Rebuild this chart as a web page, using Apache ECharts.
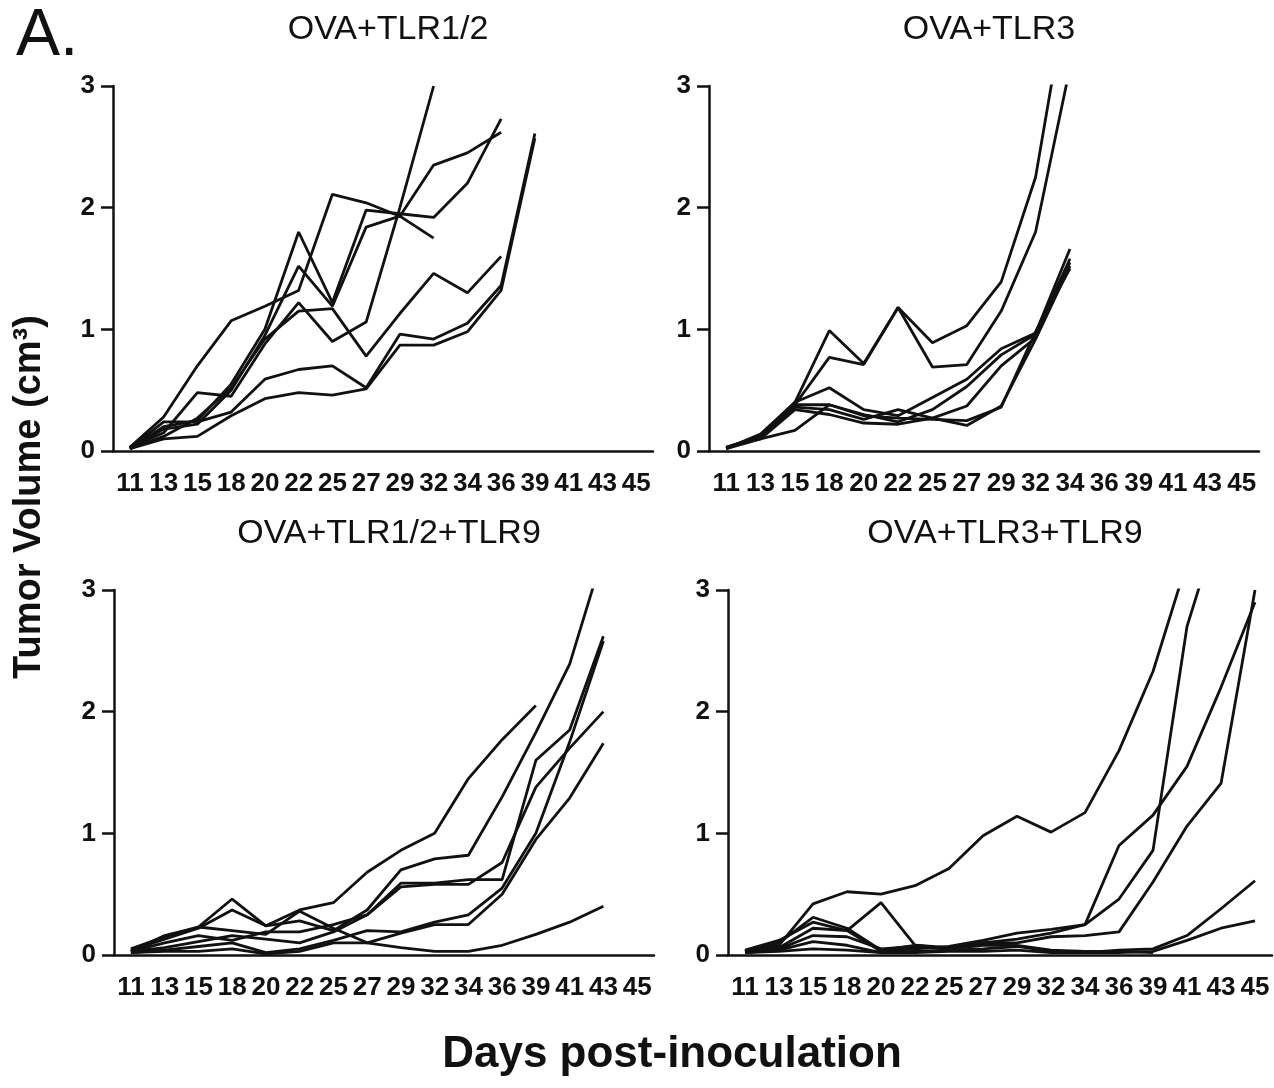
<!DOCTYPE html>
<html>
<head>
<meta charset="utf-8">
<script src="https://cdn.jsdelivr.net/npm/echarts@6/dist/echarts.min.js"></script>
<style>
html,body{margin:0;padding:0;background:#fff;}
#chart{width:1274px;height:1088px;}
</style>
</head>
<body>
<div id="chart"></div>
<script>
// Category labels (days post-inoculation)
const days = ['11','13','15','18','20','22','25','27','29','32','34','36','39','41','43','45'];
const yTicks = [0, 1, 2, 3];

const panelTitles = ['OVA+TLR1/2', 'OVA+TLR3', 'OVA+TLR1/2+TLR9', 'OVA+TLR3+TLR9'];

// Each row = one mouse (tumor volume, cm3), in day order; rows end when the mouse leaves the study
const tlr12 = [
  [0.03, 0.28, 0.70, 1.07, 1.19, 1.32, 2.11, 2.04, 1.93, 1.75],
  [0.02, 0.20, 0.25, 0.55, 1.00, 1.80, 1.22, 1.98, 1.95, 1.92, 2.20, 2.73],
  [0.02, 0.18, 0.22, 0.50, 0.95, 1.52, 1.19, 1.84, 1.93, 2.35, 2.45, 2.62],
  [0.03, 0.15, 0.48, 0.45, 0.88, 1.22, 0.90, 1.06, 2.00, 3.00],
  [0.02, 0.12, 0.27, 0.52, 0.92, 1.15, 1.17, 0.78, 1.13, 1.46, 1.30, 1.60],
  [0.02, 0.24, 0.24, 0.32, 0.59, 0.67, 0.70, 0.52, 0.96, 0.92, 1.05, 1.36, 2.61],
  [0.02, 0.10, 0.12, 0.29, 0.43, 0.48, 0.46, 0.51, 0.87, 0.87, 0.98, 1.32, 2.57]
];

const tlr3 = [
  [0.02, 0.14, 0.40, 0.99, 0.72, 1.18, 0.89, 1.03, 1.39, 2.25, 3.90],
  [0.03, 0.12, 0.38, 0.77, 0.71, 1.18, 0.69, 0.71, 1.15, 1.80, 3.15],
  [0.02, 0.12, 0.40, 0.52, 0.34, 0.29, 0.44, 0.59, 0.84, 0.97, 1.66],
  [0.02, 0.13, 0.38, 0.38, 0.30, 0.24, 0.34, 0.53, 0.79, 0.96, 1.58],
  [0.03, 0.12, 0.36, 0.34, 0.26, 0.34, 0.27, 0.37, 0.70, 0.93, 1.55],
  [0.02, 0.10, 0.34, 0.30, 0.23, 0.22, 0.27, 0.21, 0.37, 0.92, 1.52],
  [0.03, 0.10, 0.17, 0.38, 0.29, 0.27, 0.26, 0.25, 0.36, 0.98, 1.50]
];

const tlr12tlr9 = [
  [0.05, 0.15, 0.23, 0.46, 0.24, 0.37, 0.43, 0.68, 0.86, 1.00, 1.45, 1.77, 2.05],
  [0.04, 0.13, 0.22, 0.37, 0.24, 0.28, 0.20, 0.37, 0.70, 0.79, 0.82, 1.30, 1.83, 2.39, 3.30],
  [0.03, 0.10, 0.16, 0.12, 0.19, 0.19, 0.25, 0.33, 0.59, 0.59, 0.62, 0.62, 1.60, 1.85, 2.62],
  [0.03, 0.06, 0.11, 0.16, 0.13, 0.10, 0.19, 0.33, 0.56, 0.58, 0.58, 0.76, 1.38, 1.70, 2.00],
  [0.02, 0.04, 0.07, 0.10, 0.02, 0.05, 0.12, 0.20, 0.19, 0.27, 0.33, 0.55, 1.00, 1.75, 2.58],
  [0.02, 0.03, 0.03, 0.05, 0.01, 0.03, 0.10, 0.10, 0.18, 0.25, 0.25, 0.50, 0.95, 1.29, 1.74],
  [0.03, 0.16, 0.23, 0.20, 0.17, 0.36, 0.22, 0.10, 0.06, 0.03, 0.03, 0.08, 0.17, 0.27, 0.40]
];

const tlr3tlr9 = [
  [0.03, 0.08, 0.42, 0.52, 0.50, 0.57, 0.71, 0.98, 1.14, 1.01, 1.17, 1.68, 2.33, 3.23],
  [0.03, 0.10, 0.31, 0.22, 0.04, 0.08, 0.06, 0.10, 0.13, 0.18, 0.25, 0.46, 0.86, 2.70, 3.60],
  [0.03, 0.06, 0.22, 0.20, 0.03, 0.05, 0.07, 0.12, 0.18, 0.21, 0.25, 0.90, 1.15, 1.55, 2.20, 2.90],
  [0.02, 0.05, 0.16, 0.15, 0.05, 0.07, 0.05, 0.10, 0.10, 0.15, 0.16, 0.19, 0.60, 1.06, 1.41, 3.00],
  [0.02, 0.04, 0.11, 0.08, 0.02, 0.03, 0.04, 0.05, 0.07, 0.03, 0.02, 0.04, 0.05, 0.16, 0.38, 0.61],
  [0.02, 0.03, 0.05, 0.04, 0.02, 0.02, 0.03, 0.03, 0.04, 0.02, 0.02, 0.02, 0.03, 0.12, 0.22, 0.28],
  [0.04, 0.12, 0.27, 0.20, 0.43, 0.08, 0.05, 0.08, 0.08, 0.04, 0.03, 0.03, 0.02]
];

const panelData = [tlr12, tlr3, tlr12tlr9, tlr3tlr9];

const grids = [
  {left: 113, top: 86, width: 540, height: 365},
  {left: 709, top: 86, width: 550, height: 365},
  {left: 114, top: 590, width: 540, height: 365},
  {left: 728, top: 590, width: 544, height: 365}
];

const FONT = "'Liberation Sans', Arial, sans-serif";
const INK = '#111';

const xAxes = grids.map((g, i) => ({
  type: 'category', gridIndex: i, data: days, boundaryGap: true,
  axisLine: {lineStyle: {color: INK, width: 2.5}},
  axisTick: {alignWithLabel: true, length: 13, lineStyle: {color: INK, width: 2.5}},
  axisLabel: {interval: 0, color: INK, fontFamily: FONT, fontWeight: 'bold', fontSize: 26, margin: 20},
  splitLine: {show: false}
}));

const yAxes = grids.map((g, i) => ({
  type: 'value', gridIndex: i, min: yTicks[0], max: yTicks[yTicks.length - 1], interval: 1,
  axisLine: {show: true, lineStyle: {color: INK, width: 2.5}},
  axisTick: {show: true, length: 12, lineStyle: {color: INK, width: 2.5}},
  axisLabel: {color: INK, fontFamily: FONT, fontWeight: 'bold', fontSize: 26, margin: 18},
  splitLine: {show: false}
}));

const series = [];
panelData.forEach((rows, p) => {
  rows.forEach(r => {
    series.push({
      type: 'line', xAxisIndex: p, yAxisIndex: p, data: r,
      symbol: 'none', clip: true, silent: true,
      lineStyle: {color: INK, width: 2.8}
    });
  });
});

const titles = grids.map((g, i) => ({
  text: panelTitles[i],
  left: g.left + g.width / 2, top: g.top - 78, textAlign: 'center',
  textStyle: {fontFamily: FONT, fontWeight: 'normal', fontSize: 34, color: INK}
}));

const chart = echarts.init(document.getElementById('chart'), null, {renderer: 'canvas'});
chart.setOption({
  animation: false,
  backgroundColor: '#fff',
  title: titles,
  grid: grids,
  xAxis: xAxes,
  yAxis: yAxes,
  series: series,
  graphic: [
    {type: 'text', left: 16, top: 4,
     style: {text: 'A.', fontFamily: FONT, fontSize: 66, fill: INK}},
    {type: 'text', x: 30, y: 497, rotation: Math.PI / 2,
     style: {text: 'Tumor Volume (cm³)', fontFamily: FONT, fontWeight: 'bold', fontSize: 38,
             fill: INK, align: 'center', verticalAlign: 'middle'}},
    {type: 'text', x: 672, y: 1055,
     style: {text: 'Days post-inoculation', fontFamily: FONT, fontWeight: 'bold', fontSize: 44,
             fill: INK, align: 'center', verticalAlign: 'middle'}}
  ]
});
</script>
</body>
</html>
